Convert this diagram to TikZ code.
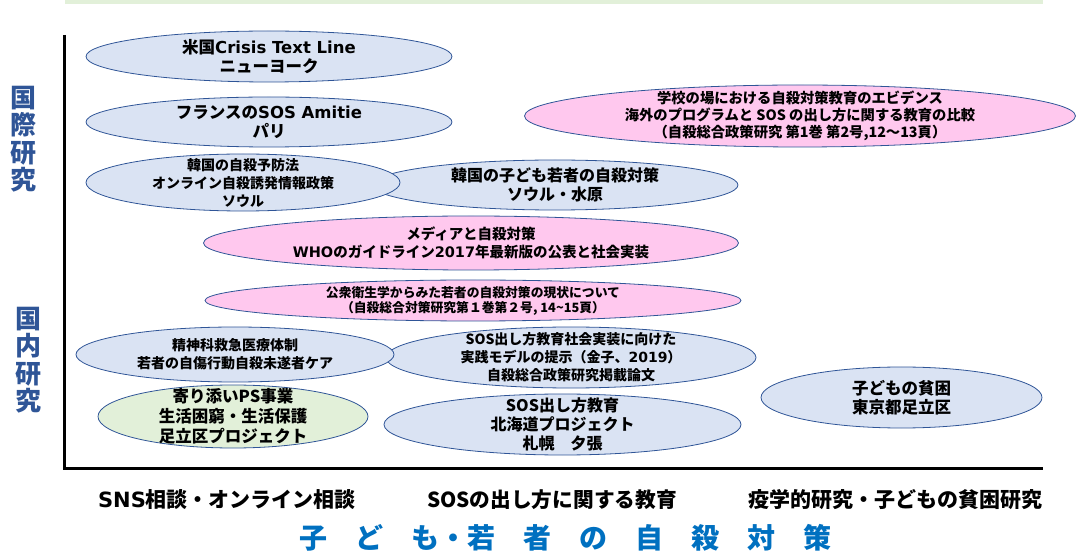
\documentclass[tikz,border=0pt]{standalone}
\usepackage{fontspec}
\setmainfont{Noto Sans CJK JP}
\newfontfamily\latfont{DejaVu Sans}
\newcommand\lat[1]{{\latfont #1}}
\usetikzlibrary{shapes.geometric}
\definecolor{ovalblue}{RGB}{218,227,243}
\definecolor{ovalpink}{RGB}{255,200,238}
\definecolor{ovalgreen}{RGB}{226,240,217}
\definecolor{ovalline}{RGB}{47,85,151}
\definecolor{sideblue}{RGB}{47,85,151}
\definecolor{titleblue}{RGB}{0,112,192}

\begin{document}
\begin{tikzpicture}[x=1pt,y=-1pt,
  oval/.style={ellipse,draw=ovalline,line width=0.8pt,inner sep=0pt},
  blueoval/.style={oval,fill=ovalblue},
  pinkoval/.style={oval,fill=ovalpink},
  greenoval/.style={oval,fill=ovalgreen},
  txt/.style 2 args={align=center,inner sep=0pt,font=\fontsize{#1}{#2}\selectfont\bfseries},
  sidelbl/.style={align=center,inner sep=0pt,text=sideblue,font=\fontsize{26}{27.5}\selectfont\bfseries}]
\useasboundingbox (0,0) rectangle (1077,553);
% top strip and axes
\fill[ovalgreen] (65,0) rectangle (1043,4);
\draw[line width=3pt] (64,35) -- (64,468) -- (1043,468);
\node[sidelbl] (intl) at (23,139) {国\\際\\研\\究};
\node[sidelbl] (dom) at (29,360) {国\\内\\研\\究};
% international
\node[blueoval,minimum width=366pt,minimum height=51pt] (crisis) at (269,56.5) {};
\node[txt={16.5}{19}] (crisistxt) at (crisis) {米国\lat{Crisis Text Line}\\ニューヨーク};
\node[blueoval,minimum width=366pt,minimum height=50pt] (amitie) at (269,122) {};
\node[txt={16.5}{19}] (amitietxt) at (amitie) {フランスの\lat{SOS Amitie}\\パリ};
\node[blueoval,minimum width=366pt,minimum height=50pt] (korkids) at (555,185) {};
\node[txt={16}{18.5}] (korkidstxt) at (korkids) {韓国の子ども若者の自殺対策\\ソウル・水原};
\node[blueoval,minimum width=314pt,minimum height=57pt] (korlaw) at (243,182.5) {};
\node[txt={14}{18}] (korlawtxt) at (korlaw) {韓国の自殺予防法\\オンライン自殺誘発情報政策\\ソウル};
\node[pinkoval,minimum width=551pt,minimum height=62pt] (school) at (800,116) {};
\node[txt={14.3}{17}] (schooltxt) at (school) {学校の場における自殺対策教育のエビデンス\\海外のプログラムと SOS の出し方に関する教育の比較\\（自殺総合政策研究 第1巻 第2号,12〜13頁）};
\node[pinkoval,minimum width=535pt,minimum height=54pt] (media) at (471,243) {};
\node[txt={14.5}{18}] (mediatxt) at (media) {メディアと自殺対策\\\lat{WHO}のガイドライン\lat{2017}年最新版の公表と社会実装};
% domestic
\node[pinkoval,minimum width=536pt,minimum height=41pt] (public) at (473,300.5) {};
\node[txt={12.8}{15}] (publictxt) at (public) {公衆衛生学からみた若者の自殺対策の現状について\\（自殺総合対策研究第１巻第２号, 14\string~15頁）};
\node[blueoval,minimum width=370pt,minimum height=61pt] (sosmodel) at (571,357.5) {};
\node[txt={14}{18}] (sosmodeltxt) at (sosmodel) {SOS出し方教育社会実装に向けた\\実践モデルの提示（金子、\lat{2019}）\\自殺総合政策研究掲載論文};
\node[blueoval,minimum width=318pt,minimum height=55pt] (psych) at (235,354.5) {};
\node[txt={14}{18}] (psychtxt) at (psych) {精神科救急医療体制\\若者の自傷行動自殺未遂者ケア};
\node[greenoval,minimum width=270pt,minimum height=63pt] (yorisoi) at (233,416.5) {};
\node[txt={16.5}{20}] (yorisoitxt) at (yorisoi) {寄り添いPS事業\\生活困窮・生活保護\\足立区プロジェクト};
\node[blueoval,minimum width=357pt,minimum height=61pt] (hokkaido) at (562.5,424.5) {};
\node[txt={16}{19}] (hokkaidotxt) at (hokkaido) {SOS出し方教育\\北海道プロジェクト\\札幌　夕張};
\node[blueoval,minimum width=281pt,minimum height=61pt] (poverty) at (901.5,397.5) {};
\node[txt={16.5}{19}] (povertytxt) at (poverty) {子どもの貧困\\東京都足立区};
% bottom labels
\node[txt={21}{24}] (sns) at (227,500) {\lat{SNS}相談・オンライン相談};
\node[txt={20.7}{24}] (sosedu) at (552,500) {SOSの出し方に関する教育};
\node[txt={21}{24}] (epi) at (895,500) {疫学的研究・子どもの貧困研究};
\node[txt={28}{30},text=titleblue] (title) at (565,538) {子　ど　も・若　者　の　自　殺　対　策};
\end{tikzpicture}
\end{document}
